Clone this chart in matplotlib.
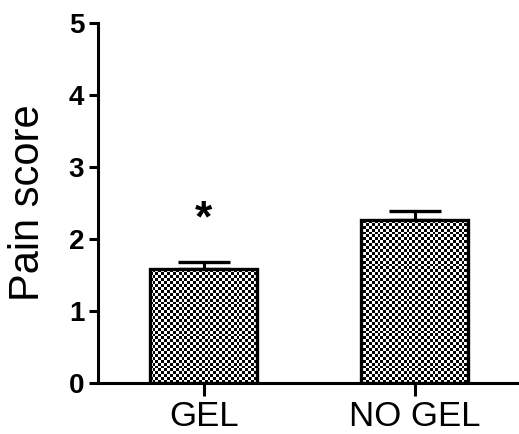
import numpy as np
import matplotlib
matplotlib.use("Agg")
import matplotlib.pyplot as plt

categories = ["GEL", "NO GEL"]
means = [1.58, 2.27]
sem = [0.10, 0.12]
ytick_labels = ["0", "1", "2", "3", "4", "5"]
ylabel = "Pain score"
star_text = "*"
star_y = 2.27

plt.rcParams['font.family'] = ['Liberation Sans', 'DejaVu Sans']

fig = plt.figure(figsize=(5.19, 4.34), dpi=100)
ax = fig.add_axes([0.189, 0.1175, 0.811, 0.829])

x = np.arange(len(categories))
XMAX = (519 - 203.5) / 211.0
bars = ax.bar(x, means, width=0.505, facecolor='none', edgecolor='black',
              linewidth=2.4, zorder=3)
ax.errorbar(x, means, yerr=[np.zeros(len(sem)), sem], fmt='none', ecolor='black',
            elinewidth=2.2, capsize=19, capthick=2.4, zorder=2)

# checkerboard fill clipped to each bar
ncols, nrows = 146, 124
yy, xx = np.mgrid[0:nrows, 0:ncols]
checker = ((xx + yy) % 2).astype(float)
for b in bars:
    im = ax.imshow(checker, cmap='gray', vmin=0, vmax=1, extent=[-0.5, XMAX, 0, 5],
                   aspect='auto', interpolation='nearest', zorder=2.5)
    im.set_clip_path(b)
ax.set_xlim(-0.5, XMAX)
ax.set_ylim(0, 5)

ax.text(0, star_y, star_text, ha='center', va='center', fontsize=32, fontweight='bold')

ax.set_xticks(x)
ax.set_xticklabels(categories, fontsize=25)
ax.set_yticks(range(6))
ax.set_yticklabels(ytick_labels, fontsize=20, fontweight='bold')
ax.set_ylabel(ylabel, fontsize=30)
ax.yaxis.set_label_coords(-0.12, 0.5)

for s in ['top', 'right']:
    ax.spines[s].set_visible(False)
for s in ['left', 'bottom']:
    ax.spines[s].set_linewidth(2.2)
ax.tick_params(axis='both', width=2.2, direction='out')
ax.tick_params(axis='y', length=6.5, pad=3.5)
ax.tick_params(axis='x', length=9, pad=3)

fig.savefig("out.png", dpi=100)
